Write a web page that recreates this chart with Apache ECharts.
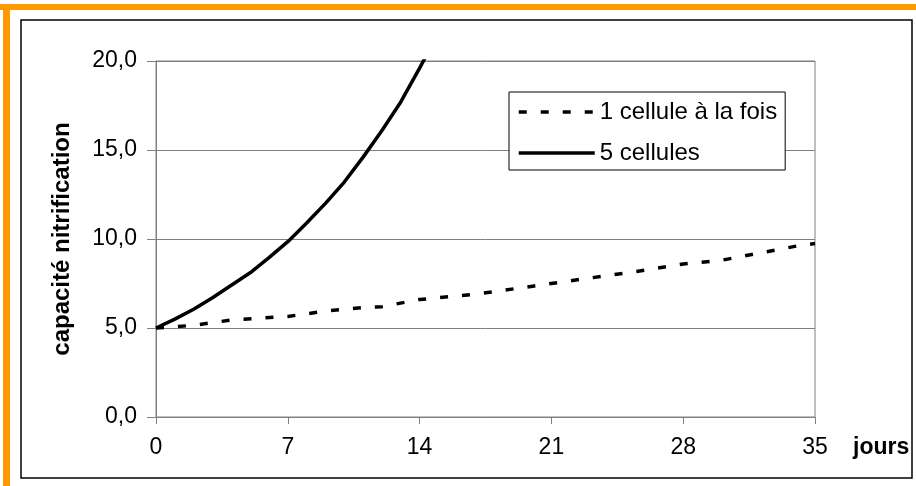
<!DOCTYPE html>
<html>
<head>
<meta charset="utf-8">
<script src="https://cdn.jsdelivr.net/npm/echarts@6/dist/echarts.min.js"></script>
<style>
  html, body { margin: 0; padding: 0; background: #fff; }
  #chart { width: 916px; height: 486px; }
</style>
</head>
<body>
<div id="chart"></div>
<script>
const X_TICKS = [0, 7, 14, 21, 28, 35];
const Y_TICKS = [0, 5, 10, 15, 20];

// 1 cellule à la fois (dashed)
const oneCellDays = [0, 2, 4, 7, 9, 11, 12, 14, 17, 20, 23, 26, 28, 30, 32, 34, 35];
const oneCellValues = [5.0, 5.15, 5.45, 5.65, 5.95, 6.15, 6.2, 6.6, 6.9, 7.35, 7.8, 8.25, 8.6, 8.8, 9.2, 9.6, 9.75];

// 5 cellules (solid), runs past the top of the axis and gets clipped
const fiveCellDays = [0, 1, 2, 3, 4, 5, 6, 7, 8, 9, 10, 11, 12, 13, 14, 15];
const fiveCellValues = [5.0, 5.5, 6.05, 6.7, 7.4, 8.1, 8.95, 9.85, 10.9, 12.0, 13.2, 14.6, 16.1, 17.7, 19.6, 21.6];

const FONT = "'Liberation Sans', Arial, sans-serif";
const pair = (xs, ys) => xs.map((x, i) => [x, ys[i]]);

const chart = echarts.init(document.getElementById("chart"), null, { renderer: "canvas" });

chart.setOption({
  animation: false,
  backgroundColor: "#fff",
  textStyle: { fontFamily: FONT, color: "#000" },
  graphic: [
    // orange frame (top + left) and black chart border
    { type: "rect", shape: { x: 0, y: 4, width: 916, height: 6 }, style: { fill: "#ff9900" }, silent: true },
    { type: "rect", shape: { x: 3, y: 4, width: 7, height: 482 }, style: { fill: "#ff9900" }, silent: true },
    { type: "rect", shape: { x: 21, y: 20, width: 891, height: 458 }, style: { fill: "none", stroke: "#000", lineWidth: 1.5 }, silent: true },
  ],
  grid: {
    left: 156, top: 61, right: 101, bottom: 69,
    show: true, borderColor: "#808080", borderWidth: 1, backgroundColor: "transparent",
  },
  legend: {
    orient: "vertical",
    left: 509, top: 92,
    backgroundColor: "#fff",
    borderColor: "#000",
    borderWidth: 1,
    padding: [8, 8, 5, 8],
    itemWidth: 76,
    itemHeight: 20,
    itemGap: 17,
    itemStyle: { opacity: 0 },
    lineStyle: { width: 3.5, color: "#000" },
    textStyle: { fontFamily: FONT, fontSize: 24, color: "#000" },
    data: ["1 cellule à la fois", "5 cellules"],
  },
  xAxis: {
    type: "value",
    min: X_TICKS[0],
    max: X_TICKS[X_TICKS.length - 1],
    interval: 7,
    name: "jours",
    nameLocation: "end",
    nameGap: 38,
    nameTextStyle: { fontFamily: FONT, fontSize: 23, fontWeight: "bold", color: "#000", verticalAlign: "top", align: "left", padding: [19, 0, 0, 0] },
    axisLine: { lineStyle: { color: "#808080", width: 1 } },
    axisTick: { show: true, length: 7, lineStyle: { color: "#808080" } },
    axisLabel: { color: "#000", fontSize: 23, fontFamily: FONT, margin: 19 },
    splitLine: { show: false },
  },
  yAxis: {
    type: "value",
    min: Y_TICKS[0],
    max: Y_TICKS[Y_TICKS.length - 1],
    interval: 5,
    name: "capacité nitrification",
    nameLocation: "middle",
    nameGap: 82,
    nameTextStyle: { fontFamily: FONT, fontSize: 24, fontWeight: "bold", color: "#000" },
    axisLine: { show: true, lineStyle: { color: "#808080", width: 1 } },
    axisTick: { show: true, length: 9, lineStyle: { color: "#808080" } },
    axisLabel: {
      color: "#000", fontSize: 23, fontFamily: FONT, margin: 19,
      formatter: (v) => v.toFixed(1).replace(".", ","),
    },
    splitLine: { show: true, lineStyle: { color: "#808080", width: 1 } },
  },
  series: [
    {
      name: "1 cellule à la fois",
      type: "line",
      data: pair(oneCellDays, oneCellValues),
      symbol: "none",
      smooth: false,
      clip: true,
      lineStyle: { color: "#000", width: 3.5, type: [8, 14] },
      itemStyle: { color: "#000" },
    },
    {
      name: "5 cellules",
      type: "line",
      data: pair(fiveCellDays, fiveCellValues),
      symbol: "none",
      smooth: false,
      clip: true,
      lineStyle: { color: "#000", width: 3.5 },
      itemStyle: { color: "#000" },
    },
  ],
});
</script>
</body>
</html>
